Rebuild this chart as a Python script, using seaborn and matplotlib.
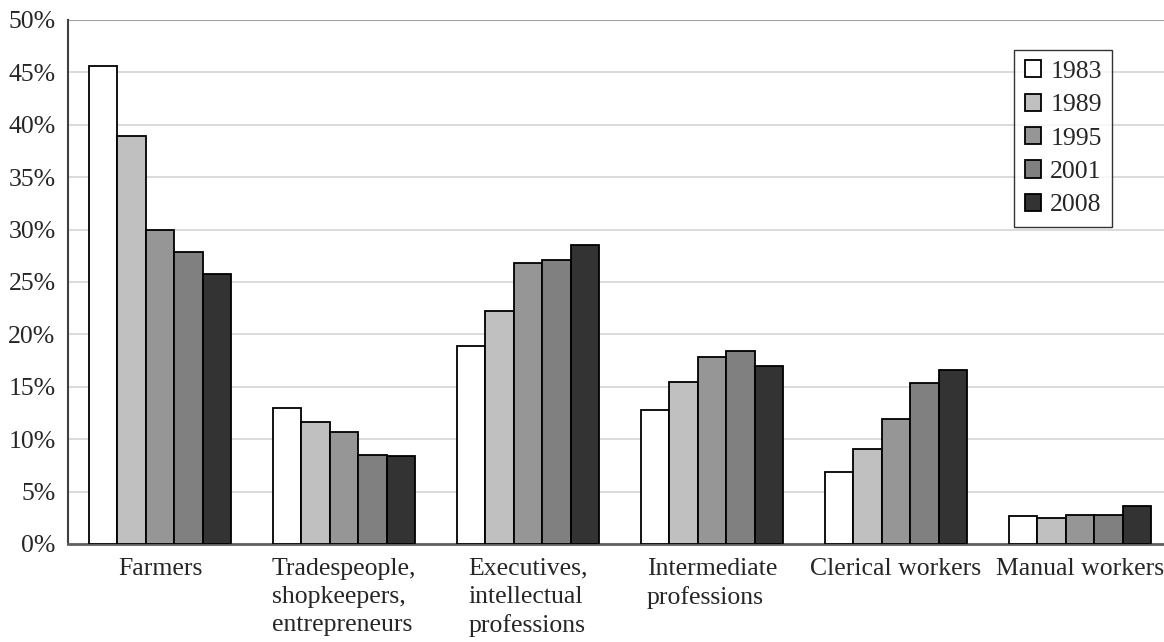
import matplotlib
matplotlib.use("Agg")
import matplotlib.pyplot as plt
import seaborn as sns
import pandas as pd

# categories and years
categories = ["Farmers", "Tradespeople,\nshopkeepers,\nentrepreneurs",
              "Executives,\nintellectual\nprofessions", "Intermediate\nprofessions",
              "Clerical workers", "Manual workers"]
years = ["1983", "1989", "1995", "2001", "2008"]

# share of each category (%) per year
v1983 = [45.6, 13.0, 18.9, 12.8, 6.9, 2.7]
v1989 = [38.9, 11.6, 22.2, 15.5, 9.1, 2.5]
v1995 = [30.0, 10.7, 26.8, 17.8, 11.9, 2.8]
v2001 = [27.9, 8.5, 27.1, 18.4, 15.4, 2.8]
v2008 = [25.8, 8.4, 28.5, 17.0, 16.6, 3.6]

colors = ["#ffffff", "#c0c0c0", "#969696", "#808080", "#333333"]

rows = []
for year, vals in zip(years, [v1983, v1989, v1995, v2001, v2008]):
    for cat, v in zip(categories, vals):
        rows.append({"category": cat, "year": year, "value": v})
df = pd.DataFrame(rows)

sns.set_style("white")
plt.rcParams['font.family'] = ['Liberation Serif', 'DejaVu Serif']
FS = 18.5

fig = plt.figure(figsize=(11.64, 6.42), dpi=100)
ax = fig.add_axes([68 / 1164, 1 - 544 / 642, 1104 / 1164, 524 / 642])

sns.barplot(data=df, x="category", y="value", hue="year", palette=colors,
            width=0.77, edgecolor="black", linewidth=1.3, ax=ax, zorder=3)

ax.set_ylim(0, 50)
ax.set_xlim(-0.5, 5.5)
ax.set_yticks(range(0, 51, 5))
ax.set_yticklabels([f"{t}%" for t in range(0, 51, 5)], fontsize=FS)
ax.set_xticks(range(len(categories)))
ax.set_xticklabels(categories, fontsize=FS, multialignment="left", linespacing=1.36)
ax.tick_params(axis="x", length=0, pad=10)
ax.tick_params(axis="y", length=0, pad=9)
ax.yaxis.grid(True, color="#d4d4d4", linewidth=1.2, zorder=0)
ax.set_axisbelow(True)
ax.set_xlabel("")
ax.set_ylabel("")

for side in ["top", "right"]:
    ax.spines[side].set_visible(False)
ax.spines["left"].set_color("#404040")
ax.spines["left"].set_linewidth(1.5)
ax.spines["bottom"].set_color("#606060")
ax.spines["bottom"].set_linewidth(2)
ax.axhline(50, color="#a0a0a0", linewidth=1.5, zorder=1)

leg = ax.legend(loc="upper right", bbox_to_anchor=(1112 / 1164, 1 - 50 / 642),
                bbox_transform=fig.transFigure, fontsize=FS, frameon=True,
                fancybox=False, edgecolor="black", borderpad=0.4,
                labelspacing=0.42, handlelength=0.65, handleheight=0.65,
                handletextpad=0.35, borderaxespad=0)
leg.get_frame().set_linewidth(1.0)

fig.savefig("out.png", dpi=100)
